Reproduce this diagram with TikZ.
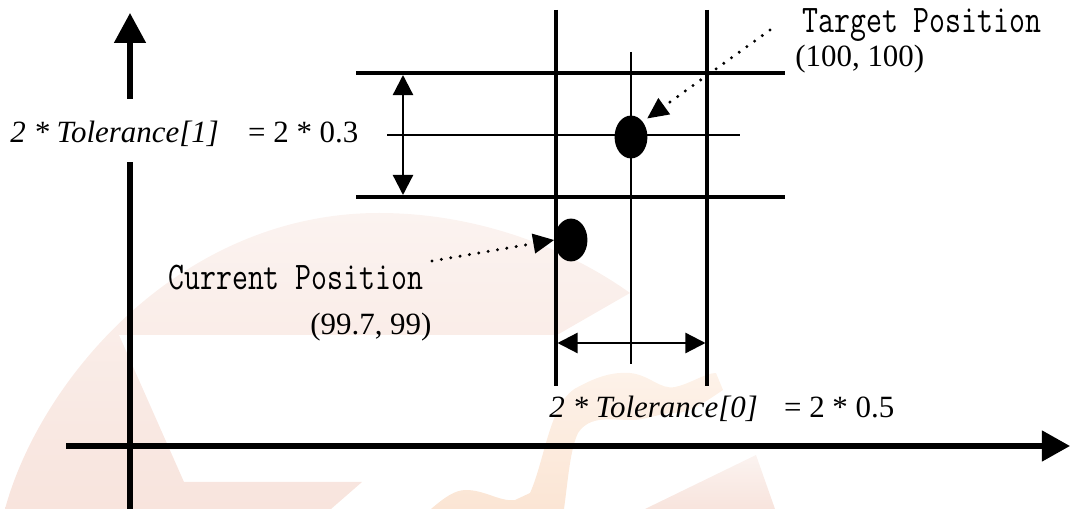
\documentclass[tikz,border=0pt]{standalone}
\usepackage{fontspec}
\setmainfont{Liberation Serif}
\usepackage{graphicx}
\usetikzlibrary{arrows.meta,shapes.geometric}
\definecolor{wmPinkTop}{RGB}{251,243,240}
\definecolor{wmPinkBot}{RGB}{248,228,221}
\definecolor{wmOrgTop}{RGB}{253,242,233}
\definecolor{wmOrgBot}{RGB}{251,229,212}
\newcommand{\narrowtext}[1]{\scalebox{0.79}[1]{#1}}
\tikzset{
  axisline/.style={line width=3pt},
  bandline/.style={line width=2.1pt},
  guideline/.style={line width=0.9pt},
  spanarrow/.style={line width=1.3pt,{Triangle[length=11.5pt,width=11.5pt]}-{Triangle[length=11.5pt,width=11.5pt]}},
  pointer/.style={line width=1.9pt,line cap=round,dash pattern=on 0pt off 5.4pt,-{Triangle[length=12pt,width=11pt]}},
  dotnode/.style={ellipse,fill=black,inner sep=0pt,minimum width=18.7pt,minimum height=24.4pt},
  eqlabel/.style={font=\fontsize{17.6}{20}\selectfont,inner sep=0pt,anchor=base west},
  poslabel/.style={font=\ttfamily\fontsize{22.3}{26}\selectfont,inner sep=0pt,anchor=base west}
}
\begin{document}
\begin{tikzpicture}[x=0.02cm,y=-0.02cm]
\useasboundingbox (0,0) rectangle (1072,509);
% watermark
\shade[top color=wmPinkTop,bottom color=wmPinkBot] (5,509) .. controls (40,380) and (180,213) .. (379,213)
  .. controls (480,213) and (570,250) .. (630,293) -- (557,335) -- (119,335) -- (184,482) -- (362,482) -- (331,509) -- cycle;
\shade[top color=wmOrgTop,bottom color=wmOrgBot] (431,509) .. controls (445,497) and (455,490) .. (466,490)
  .. controls (485,490) and (500,502) .. (515,500) -- (530,493) .. controls (545,460) and (550,400) .. (578,387)
  .. controls (600,375) and (615,372) .. (630,373) .. controls (650,375) and (660,390) .. (675,387)
  .. controls (690,384) and (705,373) .. (716,373) -- (723,390) .. controls (705,402) and (690,413) .. (675,413)
  .. controls (660,413) and (645,420) .. (633,420) .. controls (610,420) and (590,415) .. (578,433)
  .. controls (570,450) and (568,480) .. (564,509) -- cycle;
\shade[top color=wmPinkTop,bottom color=wmPinkBot] (645,509) -- (756,455) -- (775,509) -- cycle;
% axes
\draw[axisline] (130,509) -- (130,162);
\draw[axisline,-{Triangle[length=17pt,width=17.5pt]}] (130,99) -- (130,13);
\draw[axisline,-{Triangle[length=16pt,width=17pt]}] (66,446) -- (1070,446);
% tolerance band
\draw[bandline] (356,73) -- (785,73);
\draw[bandline] (356,197) -- (785,197);
\draw[bandline] (556,10) -- (556,386);
\draw[bandline] (707,10) -- (707,386);
\draw[guideline] (387,135) -- (740,135);
\draw[guideline] (631,52) -- (631,364);
\draw[spanarrow] (403,75) -- (403,195);
\draw[spanarrow] (557.5,343) -- (705.5,343);
% positions
\node[dotnode] (tgt) at (631,137) {};
\node[dotnode] (cur) at (571,240) {};
\coordinate (tgtfrom) at (770,30);
\coordinate (curfrom) at (432,261);
\draw[pointer,shorten >=3pt] (tgtfrom) -- (tgt.north east);
\draw[pointer] (curfrom) -- (cur.west);
% labels
\node[eqlabel] (tolY) at (10,143) {{\itshape 2 * Tolerance[1]}\hspace{0.95em}= 2 * 0.3};
\node[eqlabel] (tolX) at (549,418) {{\itshape 2 * Tolerance[0]}\hspace{0.85em}= 2 * 0.5};
\node[poslabel] (tgtname) at (802,33) {\narrowtext{Target Position}};
\node[eqlabel] (tgtval) at (795,67) {(100, 100)};
\node[poslabel] (curname) at (168,290) {\narrowtext{Current Position}};
\node[eqlabel] (curval) at (310,335) {(99.7, 99)};
\end{tikzpicture}
\end{document}
